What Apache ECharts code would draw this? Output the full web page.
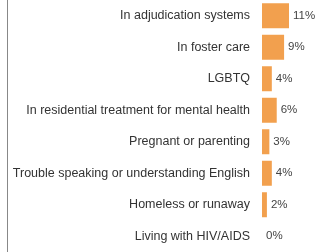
<!DOCTYPE html>
<html>
<head>
<meta charset="utf-8">
<script src="https://cdn.jsdelivr.net/npm/echarts@6/dist/echarts.min.js"></script>
<style>
  html, body { margin: 0; padding: 0; background: #fff; }
  #chart { width: 315px; height: 252px; }
</style>
</head>
<body>
<div id="chart"></div>
<script>
// groups, top to bottom
const categories = [
  "In adjudication systems",
  "In foster care",
  "LGBTQ",
  "In residential treatment for mental health",
  "Pregnant or parenting",
  "Trouble speaking or understanding English",
  "Homeless or runaway",
  "Living with HIV/AIDS"
];
const shares = [11, 9, 4, 6, 3, 4, 2, 0];

const chart = echarts.init(document.getElementById("chart"));
chart.setOption({
  animation: false,
  grid: { left: 262, top: 0, width: 27, height: 259 },
  xAxis: {
    type: "value",
    min: 0,
    max: 11,
    show: false
  },
  yAxis: {
    type: "category",
    data: categories,
    inverse: true,
    axisLine: { show: false },
    axisTick: { show: false },
    axisLabel: {
      margin: 12,
      fontFamily: "Liberation Sans",
      fontSize: 12.5,
      color: "#333"
    }
  },
  series: [{
    type: "bar",
    data: shares,
    barWidth: 25,
    itemStyle: { color: "#F2A04E" },
    label: {
      show: true,
      position: "right",
      distance: 4,
      formatter: "{c}%",
      fontFamily: "Liberation Sans",
      fontSize: 11.5,
      color: "#444"
    }
  }],
  graphic: [{
    type: "line",
    shape: { x1: 7.5, y1: 0, x2: 7.5, y2: 252 },
    style: { stroke: "#888", lineWidth: 1 }
  }]
});
</script>
</body>
</html>
